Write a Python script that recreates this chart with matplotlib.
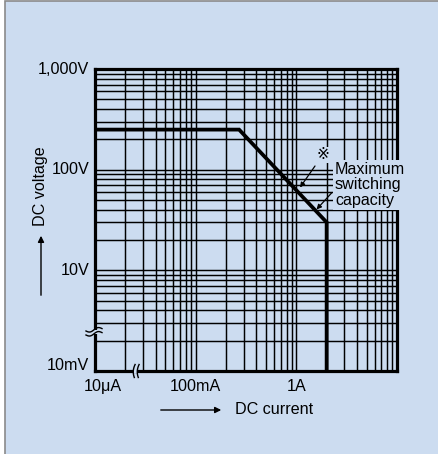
import numpy as np
import matplotlib
matplotlib.use('Agg')
import matplotlib.pyplot as plt
from matplotlib.patches import Rectangle
from matplotlib.lines import Line2D

# chart values (current in A, voltage in V); the left decade is a broken axis
current_a = [0.01, 0.27, 2.0, 2.0]
voltage_v = [250, 250, 30, 1.0]

x_ticks = [0.01, 0.1, 1]
x_labels = ['10\u03bcA', '100mA', '1A']
y_ticks = [1, 10, 100, 1000]
y_labels = ['10mV', '10V', '100V', '1,000V']

W, H = 438, 454
bg = '#ccdcf0'
plt.rcParams['font.family'] = ['Liberation Sans', 'DejaVu Sans', 'Noto Sans CJK JP']
fs = 11.6


def px(x, y):
    # pixel position (from top-left) to figure fraction
    return x / W, 1 - y / H


fig = plt.figure(figsize=(W / 100, H / 100), dpi=100)
fig.patch.set_facecolor('white')

# panel background with grey frame on left/top
fig.add_artist(Rectangle(px(4.5, H + 10), 1.5, (H + 8.5) / H, transform=fig.transFigure,
                         facecolor=bg, edgecolor='#8a8a8a', lw=1.2, zorder=-10))

ax = fig.add_axes([95 / W, 83 / H, 302 / W, 302 / H])
ax.set_facecolor(bg)
ax.set_xscale('log')
ax.set_yscale('log')
ax.set_xlim(0.01, 10)
ax.set_ylim(1, 1000)
ax.grid(which='both', color='black', lw=1.05)
ax.tick_params(which='both', length=0, labelbottom=False, labelleft=False)
for s in ax.spines.values():
    s.set_linewidth(2.3)
    s.set_color('black')
ax.set_axisbelow(True)

ax.plot(current_a, voltage_v, color='black', lw=2.7, solid_joinstyle='miter',
        solid_capstyle='butt', zorder=5)

# tick labels
for i, (xv, lab) in enumerate(zip(x_ticks, x_labels)):
    dx = 5.8 if i == 0 else 0
    ax.annotate(lab, xy=(xv, 0), xycoords=ax.get_xaxis_transform(),
                xytext=(dx, -11.5), textcoords='offset points',
                ha='center', va='center', fontsize=fs)
for i, (yv, lab) in enumerate(zip(y_ticks, y_labels)):
    dy = 4.3 if i == 0 else 0
    ax.annotate(lab, xy=(0, yv), xycoords=ax.get_yaxis_transform(),
                xytext=(-4.3, dy), textcoords='offset points',
                ha='right', va='center', fontsize=fs)

# axis titles with arrows
fig.text(*px(40, 186), 'DC voltage', rotation=90, ha='center', va='center', fontsize=fs)
ax.annotate('', xy=(41, H - 233), xytext=(41, H - 298), xycoords='figure pixels',
            textcoords='figure pixels', annotation_clip=False,
            arrowprops=dict(arrowstyle='-|>', color='black', lw=1.0, mutation_scale=9))
fig.text(*px(235, 410), 'DC current', ha='left', va='center', fontsize=fs)
ax.annotate('', xy=(224, H - 410), xytext=(158, H - 410), xycoords='figure pixels',
            textcoords='figure pixels', annotation_clip=False,
            arrowprops=dict(arrowstyle='-|>', color='black', lw=1.0, mutation_scale=9))

# annotation
fig.text(*px(335, 185), 'Maximum\nswitching\ncapacity', ha='left', va='center',
         fontsize=fs, linespacing=1.02,
         bbox=dict(boxstyle='square,pad=0.12', facecolor=bg, edgecolor='none'))
fig.text(*px(323, 155), '\u203b', ha='center', va='center', fontsize=11,
         bbox=dict(boxstyle='square,pad=0.05', facecolor=bg, edgecolor='none'))
for (x0, y0), (x1, y1) in [((315, 166), (300, 187.5)), ((332, 192.5), (316.5, 209.5))]:
    ax.annotate('', xy=(x1, H - y1), xytext=(x0, H - y0), xycoords='figure pixels',
                textcoords='figure pixels', annotation_clip=False, zorder=6,
                arrowprops=dict(arrowstyle='-|>', color='black', lw=0.9,
                                mutation_scale=7, shrinkA=0, shrinkB=0))

# axis break marks
t = np.linspace(-1, 1, 25)
fig.add_artist(Rectangle(px(92, 333.8), 6 / W, 4.2 / H, transform=fig.transFigure,
                         facecolor=bg, edgecolor='none', zorder=7))
for off in (-2.0, 2.0):
    xs = 94 + 8 * t
    ys = 331.8 + off - 1.6 * np.sin(np.pi * t) - 1.2 * t
    fx, fy = px(xs, ys)
    fig.add_artist(Line2D(fx, fy, transform=fig.transFigure, color='black', lw=1.0, zorder=8))
fig.add_artist(Rectangle(px(133.5, 373), 3.5 / W, 5 / H, transform=fig.transFigure,
                         facecolor=bg, edgecolor='none', zorder=7))
for off in (-2.0, 2.0):
    ys = 371 + 6.5 * t
    xs = 135.3 + off + 1.4 * (t ** 2) - 0.4 * t
    fx, fy = px(xs, ys)
    fig.add_artist(Line2D(fx, fy, transform=fig.transFigure, color='black', lw=1.0, zorder=8))

fig.savefig('out.png', dpi=100, facecolor='white')
